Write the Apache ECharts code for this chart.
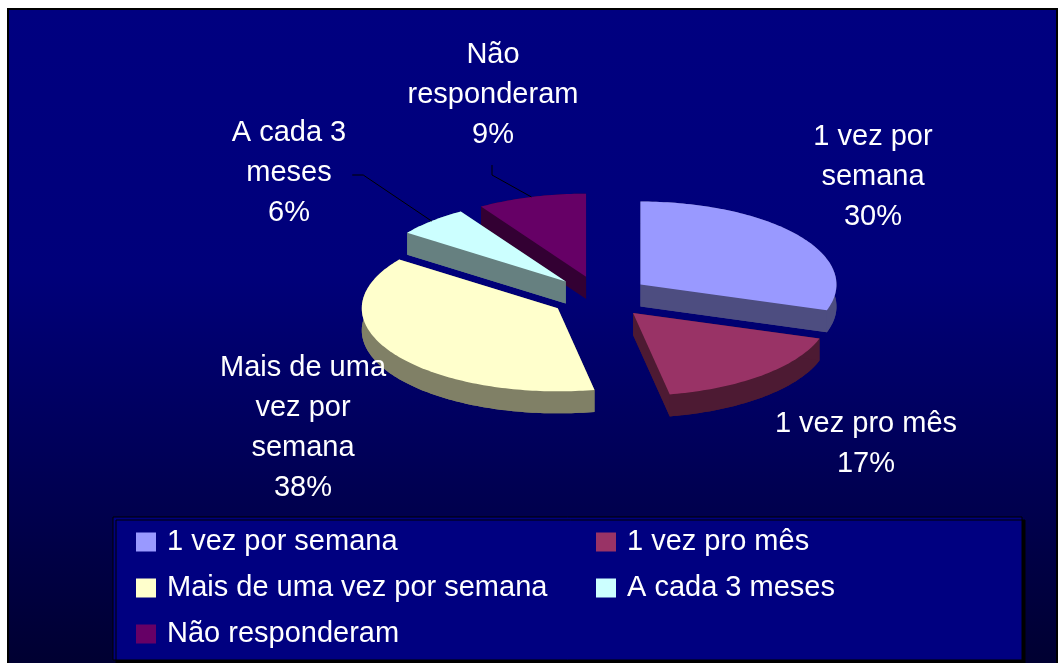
<!DOCTYPE html>
<html>
<head>
<meta charset="utf-8">
<script src="https://cdn.jsdelivr.net/npm/echarts@6/dist/echarts.min.js"></script>
<style>
  html, body { margin: 0; padding: 0; background: #fff; }
  #main { width: 1058px; height: 663px; }
</style>
</head>
<body>
<div id="main"></div>
<script>
// dados
var categories = ['1 vez por semana', '1 vez pro mês', 'Mais de uma vez por semana', 'A cada 3 meses', 'Não responderam'];
var percents = [30, 17, 38, 6, 9];
var labelNames = ['1 vez por\nsemana', '1 vez pro mês', 'Mais de uma\nvez por\nsemana', 'A cada 3\nmeses', 'Não\nresponderam'];

// cores (face de cima / lateral)
var topColors = ['#9999FF', '#993366', '#FFFFCC', '#CCFFFF', '#660066'];
var sideColors = ['#4D4D80', '#4D1A33', '#808066', '#668080', '#330033'];

// geometria da pizza 3D
var CX = 600, CY = 297;      // centro
var RX = 196, RY = 83;       // raios da elipse
var K = RY / RX;
var DEPTH = 22;              // espessura
var EXPLODE = 50;            // afastamento das fatias

// posição dos rótulos (relativa ao centro) e linhas de chamada
var labelLayout = [
  { dx: 273, dy: -120 },
  { dx: 266, dy: 147 },
  { dx: -297, dy: 131 },
  { dx: -311, dy: -124, leader: 'right' },
  { dx: -107, dy: -202, leader: 'bottom' }
];

var FONT = '29px "Liberation Sans", Arial, sans-serif';
var measureCtx = document.createElement('canvas').getContext('2d');
measureCtx.font = FONT;
function textWidth(t) {
  return Math.max.apply(null, t.split('\n').map(function (s) { return measureCtx.measureText(s).width; }));
}

var total = percents.reduce(function (a, b) { return a + b; }, 0);
var before = [];
percents.reduce(function (acc, v, i) { before[i] = acc; return acc + v; }, 0);

function renderSlice(i) {
  return function (params, api) {
    var v = api.value(0), b = api.value(1);
    var a0 = Math.PI / 2 - b / total * 2 * Math.PI;
    var a1 = a0 - v / total * 2 * Math.PI;
    var mid = (a0 + a1) / 2;
    var ax = CX + EXPLODE * Math.cos(mid);
    var ay = CY - EXPLODE * K * Math.sin(mid);
    var steps = Math.max(4, Math.ceil((a0 - a1) / 0.02));
    var arc = [];
    for (var s = 0; s <= steps; s++) {
      var t = a0 + (a1 - a0) * s / steps;
      arc.push([ax + RX * Math.cos(t), ay - RY * Math.sin(t)]);
    }
    var down = function (p) { return [p[0], p[1] + DEPTH]; };
    var apex = [ax, ay];
    var topFace = [apex].concat(arc);
    var last = arc[arc.length - 1];
    var base = Math.round((1 - Math.sin(mid)) * 100) * 2;
    var side = { fill: sideColors[i] };
    var children = [
      { type: 'polygon', z2: base, shape: { points: topFace.map(down) }, style: side },
      { type: 'polygon', z2: base, shape: { points: arc.concat(arc.slice().reverse().map(down)) }, style: side },
      { type: 'polygon', z2: base, shape: { points: [apex, arc[0], down(arc[0]), down(apex)] }, style: side },
      { type: 'polygon', z2: base, shape: { points: [apex, last, down(last), down(apex)] }, style: side },
      { type: 'polygon', z2: base + 1, shape: { points: topFace }, style: { fill: topColors[i] } }
    ];

    var lay = labelLayout[i];
    var txt = labelNames[i] + '\n' + percents[i] + '%';
    var lx = CX + lay.dx, ly = CY + lay.dy;
    children.push({
      type: 'text', z2: 1000,
      style: { text: txt, x: lx, y: ly, align: 'center', verticalAlign: 'middle', fill: '#fff', font: FONT, lineHeight: 40 }
    });

    if (lay.leader) {
      var rim = [ax + RX * Math.cos(mid), ay - RY * Math.sin(mid)];
      var e, knee;
      if (lay.leader === 'right') {
        e = [lx + textWidth(txt) / 2 + 6, ly + 2];
        knee = [e[0] + 11, e[1]];
      } else {
        var nLines = txt.split('\n').length;
        e = [lx - 1, ly + nLines * 20 + 10];
        knee = [e[0], e[1] + 10];
      }
      children.push({
        type: 'polyline', z2: 1000,
        shape: { points: [e, knee, rim] },
        style: { stroke: '#000', lineWidth: 1, fill: null }
      });
    }
    return { type: 'group', children: children };
  };
}

var chart = echarts.init(document.getElementById('main'));

chart.setOption({
  backgroundColor: '#fff',
  animation: false,
  graphic: [
    {
      type: 'rect', z: -10, silent: true,
      shape: { x: 8, y: 9, width: 1049, height: 660 },
      style: {
        fill: new echarts.graphic.LinearGradient(0, 0, 0, 1, [
          { offset: 0, color: '#000080' },
          { offset: 0.4, color: '#00007a' },
          { offset: 1, color: '#000030' }
        ]),
        stroke: '#000', lineWidth: 2
      }
    },
    {
      type: 'rect', z: -5, silent: true,
      shape: { x: 113, y: 517, width: 909, height: 143 },
      style: { fill: '#000080', stroke: '#000', lineWidth: 1, shadowColor: '#000', shadowOffsetX: 3, shadowOffsetY: 3, shadowBlur: 0 }
    }
  ],
  legend: {
    left: 136, top: 527, width: 960, padding: 0,
    icon: 'rect', itemWidth: 20, itemHeight: 19, itemGap: 16,
    selectedMode: false,
    textStyle: {
      color: '#fff', fontSize: 29, fontFamily: 'Liberation Sans, Arial, sans-serif',
      width: 413, lineHeight: 30, padding: [0, 0, 0, 6]
    }
  },
  series: categories.map(function (name, i) {
    return {
      name: name,
      type: 'custom',
      coordinateSystem: 'none',
      itemStyle: { color: topColors[i] },
      renderItem: renderSlice(i),
      data: [[percents[i], before[i]]]
    };
  })
});
</script>
</body>
</html>
